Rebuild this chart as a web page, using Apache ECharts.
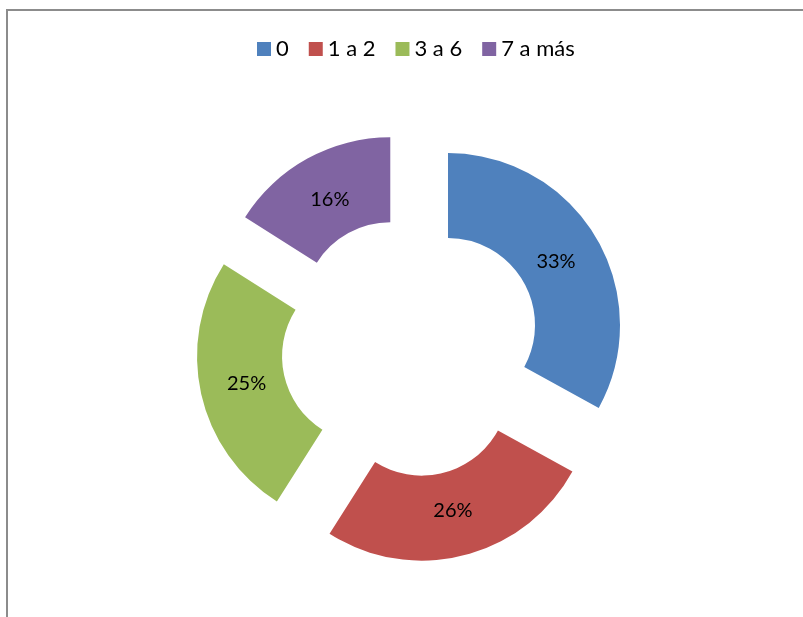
<!DOCTYPE html>
<html>
<head>
<meta charset="utf-8">
<script src="https://cdn.jsdelivr.net/npm/echarts@6/dist/echarts.min.js"></script>
<style>
    * { margin: 0; padding: 0; }
    body { background: #fff; }
    #main { width: 803px; height: 617px; }
</style>
</head>
<body>
<div id="main"></div>
<script>
    // datos del gráfico
    const categorias = ['0', '1 a 2', '3 a 6', '7 a más']
    const valores = [33, 26, 25, 16]
    const colores = ['#4F81BD', '#C0504D', '#9BBB59', '#8064A2']

    let myChart = echarts.init(document.getElementById('main'))
    let datos = categorias.map((c, i) => ({ name: c, value: valores[i], selected: true }))
    let option = {
        animation: false,
        color: colores,
        graphic: [
            { type: 'line', shape: { x1: 7, y1: 10, x2: 803, y2: 10 }, style: { stroke: '#8c8c8c', lineWidth: 2 } },
            { type: 'line', shape: { x1: 7, y1: 9, x2: 7, y2: 617 }, style: { stroke: '#8c8c8c', lineWidth: 2 } }
        ],
        legend: {
            top: 33,
            left: 252,
            itemWidth: 14,
            itemHeight: 14,
            itemGap: 20,
            icon: 'rect',
            textStyle: { fontFamily: 'Lato', fontSize: 22, color: '#000' },
            data: categorias
        },
        series: [
            {
                type: 'pie',
                center: [411, 347],
                radius: [87, 172],
                startAngle: 90,
                clockwise: true,
                selectedMode: 'multiple',
                selectedOffset: 43,
                label: { show: false },
                labelLine: { show: false },
                emphasis: { disabled: true },
                data: datos
            },
            {
                // solo etiquetas, un poco más hacia el centro
                type: 'pie',
                center: [411, 347],
                radius: [80, 165],
                startAngle: 90,
                clockwise: true,
                selectedMode: 'multiple',
                selectedOffset: 43,
                percentPrecision: 0,
                silent: true,
                itemStyle: { color: 'rgba(0,0,0,0)' },
                label: {
                    show: true,
                    position: 'inside',
                    formatter: '{d}%',
                    color: '#000',
                    fontFamily: 'Lato',
                    fontSize: 20
                },
                labelLine: { show: false },
                emphasis: { disabled: true },
                data: datos
            }
        ]
    }
    myChart.setOption(option)
</script>
</body>
</html>
